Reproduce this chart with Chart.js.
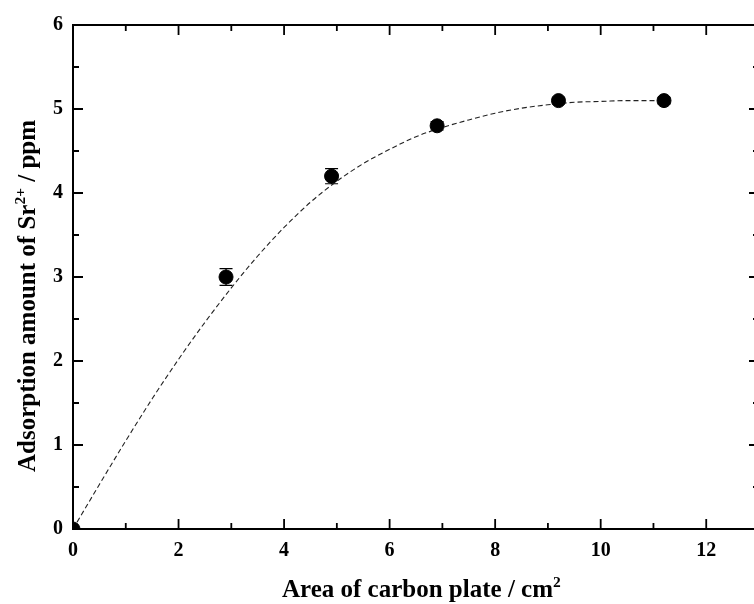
<!DOCTYPE html>
<html>
<head>
<meta charset="utf-8">
<script src="https://cdn.jsdelivr.net/npm/chart.js@4/dist/chart.umd.min.js"></script>
<style>
  html, body { margin: 0; padding: 0; background: #fff; overflow: hidden; }
  #wrap { width: 767px; height: 604px; }
</style>
</head>
<body>
<div id="wrap"><canvas id="c" width="767" height="604"></canvas></div>
<script>
// Measured Sr2+ adsorption versus carbon plate area
const areaValues = [0, 2.9, 4.9, 6.9, 9.2, 11.2];
const adsorptionValues = [0, 3.0, 4.2, 4.8, 5.1, 5.1];
const adsorptionErrors = [0, 0.1, 0.09, 0.05, 0.04, 0.04];

// Fitted trend curve (dashed)
const fitX = [0, 0.5, 1, 1.5, 2, 2.5, 3, 3.5, 4, 4.5, 5, 5.5, 6, 6.5, 7, 7.5, 8, 8.5, 9, 9.5, 10, 10.5, 11, 11.2];
const fitY = [0, 0.53, 1.05, 1.55, 2.02, 2.46, 2.87, 3.25, 3.59, 3.89, 4.14, 4.35, 4.52, 4.67, 4.78, 4.87, 4.95, 5.01, 5.05, 5.08, 5.09, 5.10, 5.10, 5.10];

// Axis ticks
const xTickValues = [0, 2, 4, 6, 8, 10, 12];
const yTickValues = [0, 1, 2, 3, 4, 5, 6];

const xTitleParts = [{ t: 'Area of carbon plate / cm' }, { t: '2', sup: true }];
const yTitleParts = [{ t: 'Adsorption amount of Sr' }, { t: '2+', sup: true }, { t: ' / ppm' }];

const SERIF = '"Liberation Serif", "Times New Roman", serif';

function drawRich(ctx, parts, size) {
  let x = 0;
  for (const p of parts) {
    const s = p.sup ? size * 0.62 : size;
    ctx.font = 'bold ' + s + 'px ' + SERIF;
    ctx.fillText(p.t, x, p.sup ? -size * 0.42 : 0);
    x += ctx.measureText(p.t).width;
  }
}

const framePlugin = {
  id: 'frame',
  beforeDatasetsDraw(chart) {
    const { ctx } = chart;
    const xs = chart.scales.x, ys = chart.scales.y;
    ctx.save();
    ctx.strokeStyle = '#000';
    ctx.lineWidth = 1.2;
    areaValues.forEach((xv, i) => {
      const e = adsorptionErrors[i];
      if (!e) return;
      const px = xs.getPixelForValue(xv);
      const y1 = ys.getPixelForValue(adsorptionValues[i] + e);
      const y2 = ys.getPixelForValue(adsorptionValues[i] - e);
      ctx.beginPath();
      ctx.moveTo(px, y1); ctx.lineTo(px, y2);
      ctx.moveTo(px - 6.5, y1); ctx.lineTo(px + 6.5, y1);
      ctx.moveTo(px - 6.5, y2); ctx.lineTo(px + 6.5, y2);
      ctx.stroke();
    });
    ctx.restore();
  },
  afterDraw(chart) {
    const { ctx, chartArea: a } = chart;
    const xs = chart.scales.x, ys = chart.scales.y;
    ctx.save();
    ctx.strokeStyle = '#000';
    ctx.lineWidth = 2;
    ctx.strokeRect(a.left, a.top, a.right - a.left, a.bottom - a.top);

    ctx.lineWidth = 1.8;
    ctx.beginPath();
    xTickValues.forEach(v => {
      const px = xs.getPixelForValue(v);
      ctx.moveTo(px, a.bottom); ctx.lineTo(px, a.bottom - 10);
      ctx.moveTo(px, a.top); ctx.lineTo(px, a.top + 10);
      const m = v + 1;
      if (m < xs.max) {
        const pm = xs.getPixelForValue(m);
        ctx.moveTo(pm, a.bottom); ctx.lineTo(pm, a.bottom - 6);
        ctx.moveTo(pm, a.top); ctx.lineTo(pm, a.top + 6);
      }
    });
    yTickValues.forEach(v => {
      const py = ys.getPixelForValue(v);
      ctx.moveTo(a.left, py); ctx.lineTo(a.left + 10, py);
      ctx.moveTo(a.right, py); ctx.lineTo(a.right - 10, py);
      const m = v + 0.5;
      if (m < ys.max) {
        const pm = ys.getPixelForValue(m);
        ctx.moveTo(a.left, pm); ctx.lineTo(a.left + 6, pm);
        ctx.moveTo(a.right, pm); ctx.lineTo(a.right - 6, pm);
      }
    });
    ctx.stroke();

    // Axis titles
    ctx.fillStyle = '#000';
    ctx.textBaseline = 'alphabetic';
    ctx.textAlign = 'left';
    ctx.save();
    ctx.translate(282, 597);
    drawRich(ctx, xTitleParts, 25);
    ctx.restore();

    ctx.save();
    ctx.translate(35, 472);
    ctx.rotate(-Math.PI / 2);
    drawRich(ctx, yTitleParts, 25);
    ctx.restore();
    ctx.restore();
  }
};

new Chart(document.getElementById('c'), {
  type: 'scatter',
  data: {
    datasets: [
      {
        type: 'line',
        data: fitX.map((x, i) => ({ x, y: fitY[i] })),
        borderColor: '#222',
        borderWidth: 1.1,
        borderDash: [5, 3],
        pointRadius: 0,
        fill: false,
        cubicInterpolationMode: 'monotone',
        order: 2
      },
      {
        data: areaValues.map((x, i) => ({ x, y: adsorptionValues[i] })),
        backgroundColor: '#000',
        borderColor: '#000',
        pointRadius: 7,
        pointHoverRadius: 7,
        clip: 0,
        order: 1
      }
    ]
  },
  options: {
    responsive: false,
    animation: false,
    devicePixelRatio: 1,
    layout: { padding: { left: 0, top: 25, right: 4, bottom: 0 } },
    plugins: { legend: { display: false }, tooltip: { enabled: false } },
    scales: {
      x: {
        type: 'linear',
        min: 0,
        max: 13,
        grid: { display: false, drawTicks: false },
        border: { display: false },
        afterFit(s) { s.height = 75; },
        afterBuildTicks(s) { s.ticks = xTickValues.map(v => ({ value: v })); },
        ticks: {
          padding: 10,
          color: '#000',
          font: { family: SERIF, size: 20, weight: 'bold' }
        }
      },
      y: {
        type: 'linear',
        min: 0,
        max: 6,
        grid: { display: false, drawTicks: false },
        border: { display: false },
        afterFit(s) { s.width = 73; },
        afterBuildTicks(s) { s.ticks = yTickValues.map(v => ({ value: v })); },
        ticks: {
          padding: 10,
          color: '#000',
          font: { family: SERIF, size: 20, weight: 'bold' }
        }
      }
    }
  },
  plugins: [framePlugin]
});
</script>
</body>
</html>
